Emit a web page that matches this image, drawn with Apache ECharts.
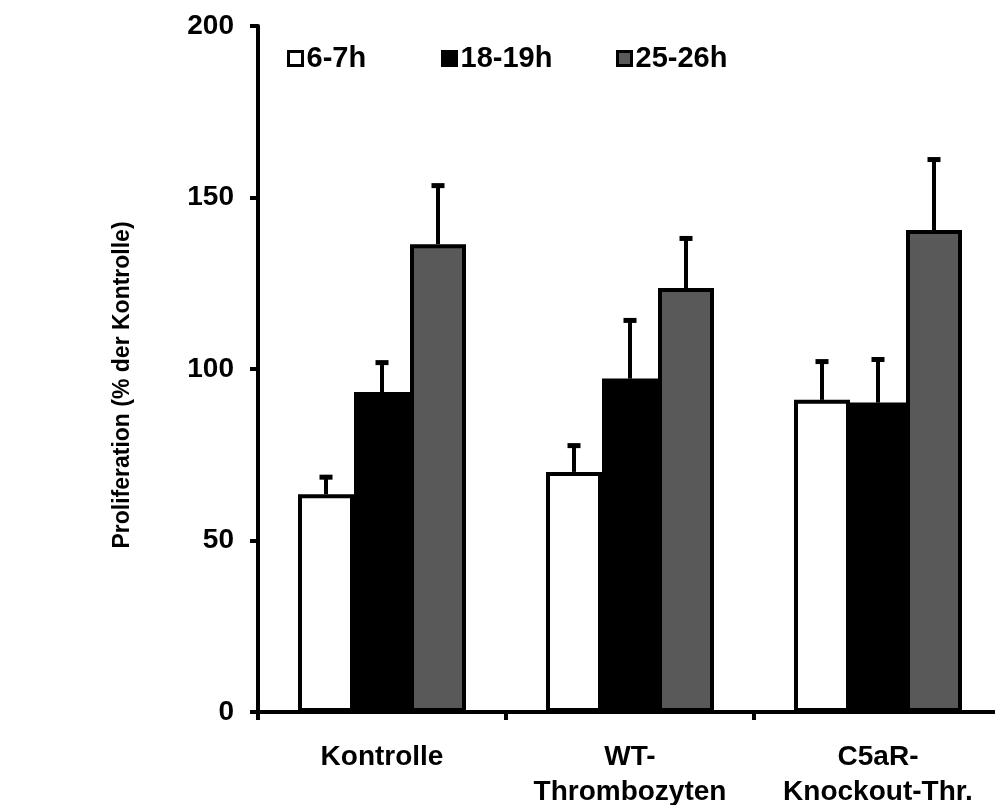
<!DOCTYPE html>
<html>
<head>
<meta charset="utf-8">
<script src="https://cdn.jsdelivr.net/npm/echarts@6/dist/echarts.min.js"></script>
<style>
html,body{margin:0;padding:0;background:#fff;}
#chart{width:995px;height:805px;}
</style>
</head>
<body>
<div id="chart"></div>
<script>
var categories = ['Kontrolle', 'WT-\nThrombozyten', 'C5aR-\nKnockout-Thr.'];
var seriesNames = ['6-7h', '18-19h', '25-26h'];
var values_6_7h = [63.5, 70.0, 91.0];
var values_18_19h = [93.3, 97.2, 90.2];
var values_25_26h = [136.4, 123.6, 140.5];
var err_6_7h = [5.4, 8.1, 11.6];
var err_18_19h = [9.0, 17.4, 13.0];
var err_25_26h = [17.5, 14.9, 21.0];
var yTicks = [0, 50, 100, 150, 200];

var FONT = 'Liberation Sans, Arial, sans-serif';
var colors = ['#ffffff', '#000000', '#595959'];
var valuesAll = [values_6_7h, values_18_19h, values_25_26h];
var errAll = [err_6_7h, err_18_19h, err_25_26h];
var BAR_W = 56;

var chart = echarts.init(document.getElementById('chart'));

var series = [];
seriesNames.forEach(function (name, i) {
  series.push({
    name: name,
    type: 'bar',
    data: valuesAll[i],
    barWidth: BAR_W,
    barGap: '0%',
    itemStyle: { color: colors[i], borderColor: '#000', borderWidth: 4 },
    z: 2,
    silent: true
  });
});
seriesNames.forEach(function (name, i) {
  var data = valuesAll[i].map(function (v, k) { return [k, v, v + errAll[i][k]]; });
  series.push({
    type: 'custom',
    name: name + ' err',
    z: 3,
    silent: true,
    data: data,
    renderItem: function (params, api) {
      var k = api.value(0);
      var p0 = api.coord([k, api.value(1)]);
      var p1 = api.coord([k, api.value(2)]);
      var x = p0[0] + (i - 1) * BAR_W;
      return {
        type: 'group',
        children: [
          { type: 'line', shape: { x1: x, y1: p0[1], x2: x, y2: p1[1] }, style: { stroke: '#000', lineWidth: 4 } },
          { type: 'line', shape: { x1: x - 6.5, y1: p1[1] + 1.5, x2: x + 6.5, y2: p1[1] + 1.5 }, style: { stroke: '#000', lineWidth: 5 } }
        ]
      };
    }
  });
});

var legendLefts = [282, 436, 611];
var legends = seriesNames.map(function (name, i) {
  return {
    data: [name],
    left: legendLefts[i],
    top: 39,
    itemWidth: 14,
    itemHeight: 14,
    itemGap: 4,
    icon: 'rect',
    selectedMode: false,
    itemStyle: { borderWidth: 3, borderColor: '#000' },
    textStyle: { fontFamily: FONT, fontWeight: 'bold', fontSize: 29, color: '#000', padding: [0, 0, 0, -1] }
  };
});

chart.setOption({
  animation: false,
  backgroundColor: '#fff',
  legend: legends,
  grid: { left: 258, top: 26, width: 744, height: 686, containLabel: false, outerBoundsMode: 'none' },
  xAxis: {
    type: 'category',
    data: categories,
    axisLine: { lineStyle: { color: '#000', width: 4 } },
    axisTick: { show: true, length: 8, lineStyle: { color: '#000', width: 4 } },
    axisLabel: {
      color: '#000', fontFamily: FONT, fontWeight: 'bold', fontSize: 28,
      margin: 28, lineHeight: 35, align: 'center', interval: 0
    },
    splitLine: { show: false }
  },
  yAxis: {
    type: 'value',
    min: yTicks[0],
    max: yTicks[yTicks.length - 1],
    interval: 50,
    name: 'Proliferation (% der Kontrolle)',
    nameLocation: 'middle',
    nameGap: 124,
    nameRotate: 90,
    nameTextStyle: { color: '#000', fontFamily: FONT, fontWeight: 'bold', fontSize: 23, padding: [0, 32, 0, 0] },
    axisLine: { show: true, lineStyle: { color: '#000', width: 4 } },
    axisTick: { show: true, length: 8, lineStyle: { color: '#000', width: 4 } },
    axisLabel: { color: '#000', fontFamily: FONT, fontWeight: 'bold', fontSize: 28, margin: 24 },
    splitLine: { show: false }
  },
  series: series
});
</script>
</body>
</html>
